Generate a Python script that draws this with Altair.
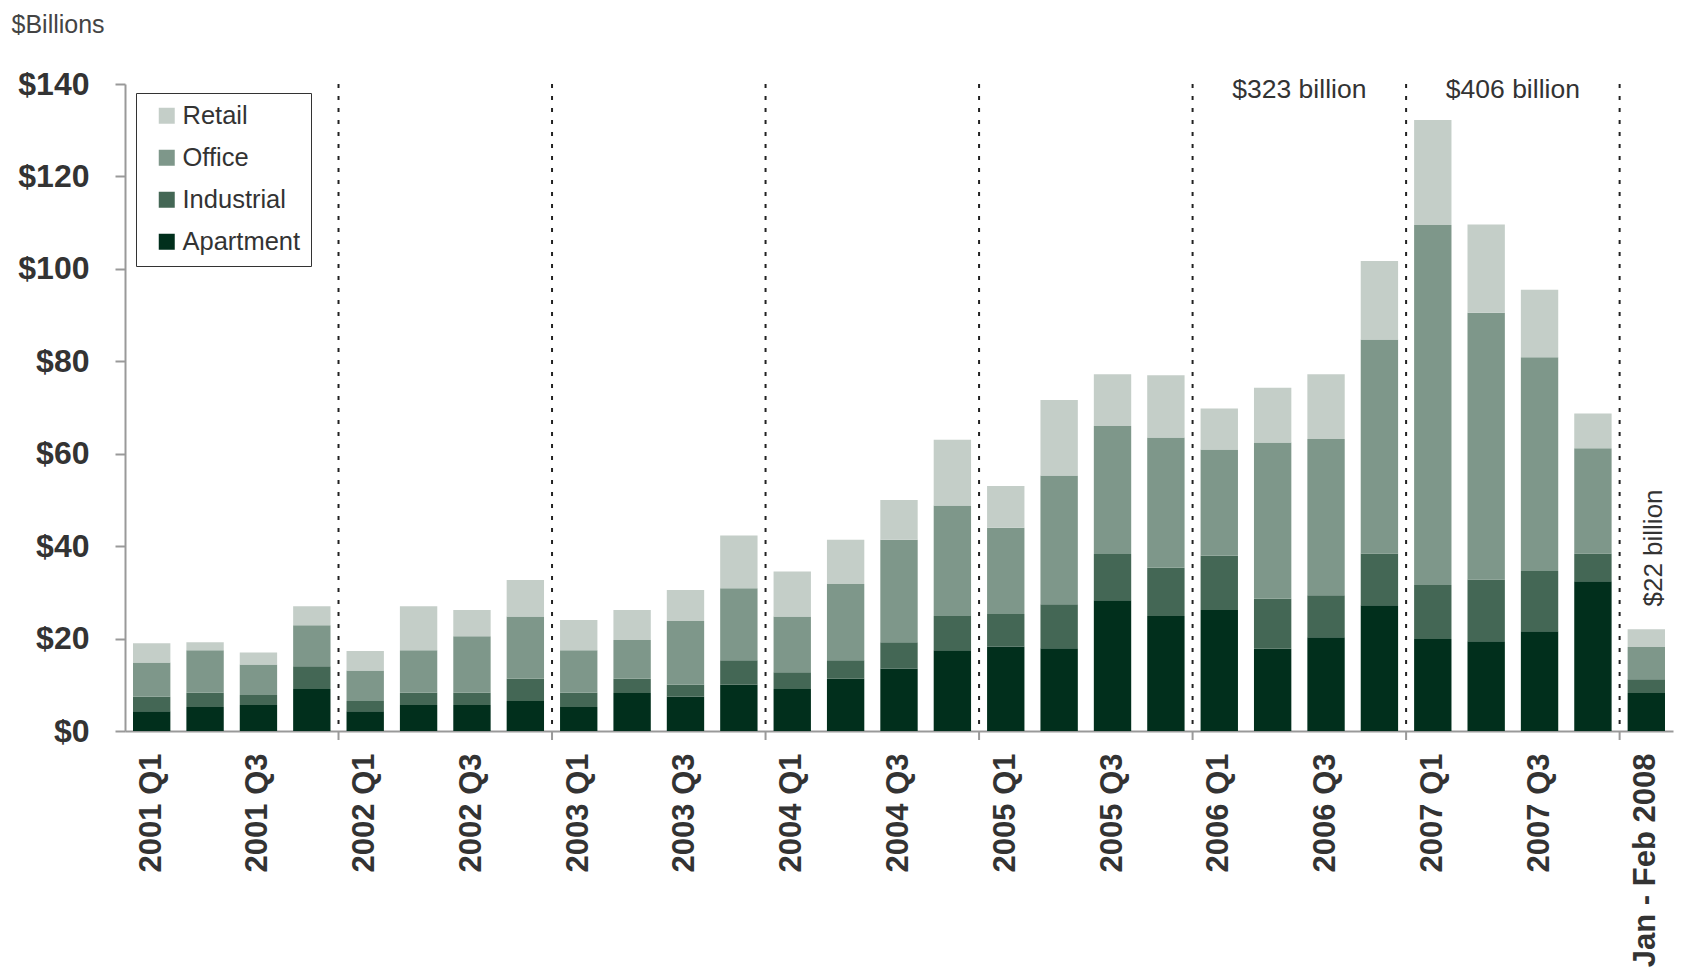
import altair as alt
import pandas as pd

categories = [
    "2001 Q1", "2001 Q2", "2001 Q3", "2001 Q4",
    "2002 Q1", "2002 Q2", "2002 Q3", "2002 Q4",
    "2003 Q1", "2003 Q2", "2003 Q3", "2003 Q4",
    "2004 Q1", "2004 Q2", "2004 Q3", "2004 Q4",
    "2005 Q1", "2005 Q2", "2005 Q3", "2005 Q4",
    "2006 Q1", "2006 Q2", "2006 Q3", "2006 Q4",
    "2007 Q1", "2007 Q2", "2007 Q3", "2007 Q4",
    "Jan - Feb 2008",
]
apartment = [4.3, 5.2, 5.6, 9.1, 4.3, 5.6, 5.6, 6.5, 5.2, 8.2, 7.4, 10.0,
             9.1, 11.3, 13.5, 17.5, 18.3, 17.9, 28.3, 24.9, 26.2, 17.8, 20.3, 27.2,
             19.9, 19.4, 21.6, 32.4, 8.2]
industrial = [3.1, 3.1, 2.2, 4.9, 2.2, 2.7, 2.7, 4.8, 3.1, 3.1, 2.6, 5.3,
              3.6, 4.0, 5.7, 7.4, 7.0, 9.5, 10.0, 10.4, 11.7, 10.8, 9.1, 11.2,
              11.7, 13.4, 13.0, 6.0, 3.0]
office = [7.4, 9.2, 6.6, 8.9, 6.6, 9.2, 12.2, 13.5, 9.2, 8.4, 13.8, 15.6,
          12.1, 16.5, 22.2, 23.9, 18.7, 27.9, 27.7, 28.2, 23.0, 33.8, 33.8, 46.3,
          77.9, 57.7, 46.3, 22.8, 7.0]
retail = [4.2, 1.7, 2.6, 4.1, 4.2, 9.5, 5.7, 7.9, 6.5, 6.5, 6.7, 11.4,
          9.7, 9.6, 8.6, 14.2, 9.0, 16.3, 11.2, 13.5, 8.9, 11.9, 14.0, 17.0,
          22.7, 19.1, 14.6, 7.5, 3.8]

series_names = ["Retail", "Office", "Industrial", "Apartment"]
series_colors = ["#c4cec8", "#7e978a", "#446755", "#012f1c"]
year_starts = ["2002 Q1", "2003 Q1", "2004 Q1", "2005 Q1", "2006 Q1", "2007 Q1", "Jan - Feb 2008"]

rows = []
series_values = {"Apartment": apartment, "Industrial": industrial, "Office": office, "Retail": retail}
stack_rank = {"Apartment": 0, "Industrial": 1, "Office": 2, "Retail": 3}
for name, vals in series_values.items():
    for c, v in zip(categories, vals):
        rows.append({"period": c, "type": name, "value": v, "rank": stack_rank[name]})
df = pd.DataFrame(rows)
bounds = pd.DataFrame({"period": year_starts})

W, H = 1548, 647
FONT = "Liberation Sans"
TXT = "#333333"

xscale = alt.Scale(domain=categories, paddingInner=0, paddingOuter=0)
yscale = alt.Scale(domain=[0, 140], nice=False)

bars = alt.Chart(df).mark_bar(width=alt.RelativeBandSize(0.7)).encode(
    x=alt.X("period:N", scale=xscale, title=None,
            axis=alt.Axis(labelAngle=270, labelFontSize=31, labelFontWeight="bold",
                          labelColor=TXT, labelFont=FONT, labelPadding=22, labelLimit=0,
                          ticks=False, domainColor="#999999", domainWidth=2,
                          labelExpr="test(/Q[24]$/, datum.label) ? '' : datum.label")),
    y=alt.Y("value:Q", stack="zero", scale=yscale, title="$Billions",
            axis=alt.Axis(values=[0, 20, 40, 60, 80, 100, 120, 140], labelExpr="'$' + datum.value",
                          labelFontSize=32, labelFontWeight="bold", labelColor=TXT, labelFont=FONT,
                          labelPadding=26, tickSize=10, tickColor="#999999", tickWidth=2,
                          domainColor="#999999", domainWidth=2, grid=False,
                          titleAngle=0, titleAlign="left", titleBaseline="middle",
                          titleX=-114, titleY=-60, titleFontSize=25, titleFontWeight="normal",
                          titleColor="#444444", titleFont=FONT)),
    color=alt.Color("type:N", scale=alt.Scale(domain=series_names, range=series_colors),
                    legend=alt.Legend(title=None, orient="none", legendX=11, legendY=9,
                                      symbolType="square", symbolSize=256, symbolStrokeWidth=0,
                                      labelFontSize=25.5, labelFont=FONT, labelColor=TXT,
                                      labelOffset=3, rowPadding=15, padding=10, symbolOffset=8,
                                      strokeColor="#333333")),
    order=alt.Order("rank:Q", sort="ascending"),
)

dotted = alt.Chart(bounds).mark_rule(color="#222222", strokeWidth=2, strokeDash=[4, 8]).encode(
    x=alt.X("period:N", scale=xscale, bandPosition=0),
    y=alt.datum(140),
    y2=alt.datum(0),
)

ticks = alt.Chart(bounds).mark_rule(color="#999999", strokeWidth=2).encode(
    x=alt.X("period:N", scale=xscale, bandPosition=0),
    y=alt.value(H),
    y2=alt.value(H + 9),
)

ann_top = alt.Chart(pd.DataFrame({"period": ["2006 Q3", "2007 Q3"],
                                  "label": ["$323 billion", "$406 billion"]})).mark_text(
    fontSize=26.5, font=FONT, color=TXT, baseline="middle", align="center").encode(
    x=alt.X("period:N", scale=xscale, bandPosition=0),
    y=alt.datum(138.6),
    text="label:N",
)

ann_side = alt.Chart(pd.DataFrame({"period": ["Jan - Feb 2008"], "label": ["$22 billion"]})).mark_text(
    fontSize=26, font=FONT, color=TXT, baseline="middle", align="center", angle=270).encode(
    x=alt.X("period:N", scale=xscale, bandPosition=0.65),
    y=alt.datum(39.6),
    text="label:N",
)

chart = alt.layer(bars, dotted, ticks, ann_top, ann_side).properties(
    width=W, height=H,
    autosize=alt.AutoSizeParams(type="none"),
    padding={"left": 117, "top": 76, "right": 4, "bottom": 238},
).configure(font=FONT).configure_view(stroke=None)

chart.save("out.html", embed_options={"renderer": "svg", "actions": False})
